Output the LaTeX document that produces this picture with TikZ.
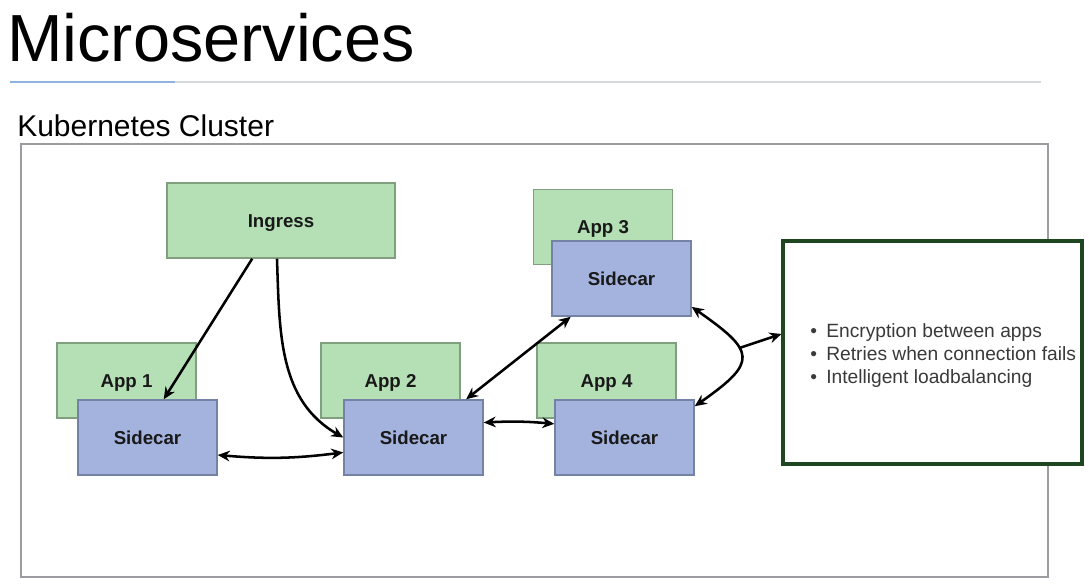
\documentclass[tikz,border=0pt]{standalone}
\usepackage{fontspec}
\setmainfont{Liberation Sans}
\usetikzlibrary{arrows.meta}
\usepackage{xcolor}
\definecolor{appfill}{HTML}{B5DFB5}
\definecolor{appdraw}{HTML}{7F9F7F}
\definecolor{carfill}{HTML}{A3B3DE}
\definecolor{cardraw}{HTML}{7482A6}
\definecolor{framegray}{HTML}{9B9BA0}
\definecolor{infogreen}{HTML}{1E4620}
\definecolor{rulegray}{HTML}{D6D9DD}
\definecolor{ruleblue}{HTML}{8FB4DC}
\definecolor{bodytext}{HTML}{3A3A3A}

\begin{document}
\begin{tikzpicture}[x=0.75pt,y=-0.75pt]
    \useasboundingbox (0,0) rectangle (1089,585);

    % heading and cluster frame
    \node[anchor=base west,inner sep=0,font=\fontsize{50}{60}\selectfont] (title) at (7,62) {Microservices};
    \draw[rulegray,line width=1.5pt] (10,82) -- (1041,82);
    \draw[ruleblue,line width=1.5pt] (10,82) -- (175,82);
    \node[anchor=base west,inner sep=0,font=\fontsize{22.5}{27}\selectfont] (clusterlabel) at (17,137) {Kubernetes Cluster};
    \draw[framegray,line width=1.5pt] (21,144) rectangle (1048,577);

    \begin{scope}[every node/.style={rectangle,draw=appdraw,fill=appfill,line width=1.1pt,inner sep=0,
        minimum width=104.25pt,minimum height=56.25pt,text height=10pt,text depth=0pt,
        text=black!90,font=\bfseries\fontsize{14}{16}\selectfont}]
      \node[minimum width=171pt] (ingress) at (281,220.5) {Ingress};
      \node (app1) at (126.5,380.5) {App 1};
      \node (app2) at (390.5,380.5) {App 2};
      \node (app3) at (603,227) {App 3};
      \node (app4) at (606.5,380.5) {App 4};
    \end{scope}

    \begin{scope}[every node/.style={rectangle,draw=cardraw,fill=carfill,line width=1.1pt,inner sep=0,
        minimum width=104.25pt,minimum height=56.25pt,text height=10pt,text depth=0pt,
        text=black!90,font=\bfseries\fontsize{14}{16}\selectfont}]
      \node (sc1) at (147.5,437.5) {Sidecar};
      \node (sc2) at (413.5,437.5) {Sidecar};
      \node (sc3) at (621.5,278.5) {Sidecar};
      \node (sc4) at (624.5,437.5) {Sidecar};
    \end{scope}

    \node[draw=infogreen,line width=2.3pt,fill=white,minimum width=224.25pt,minimum height=167.25pt] (info) at (932.5,352.5) {};
    \begin{scope}[every node/.style={anchor=base west,inner sep=0,text=bodytext,font=\fontsize{14.4}{17}\selectfont}]
      \node (item1) at (810,337) {\textbullet\hspace{7pt}Encryption between apps};
      \node (item2) at (810,360) {\textbullet\hspace{7pt}Retries when connection fails};
      \node (item3) at (810,383) {\textbullet\hspace{7pt}Intelligent loadbalancing};
    \end{scope}

    \begin{scope}[>={Stealth[length=9pt,width=8pt]},
        every edge/.style={draw=black,line width=1.9pt}]
      \path [->] (ingress.233) edge (sc1.67);
      \path [->] (ingress.264) edge[out=-88,in=150] (sc2.180);
      \path [<->] (sc1.-14) edge[bend right=6] (sc2.192);
      \path [<->] (sc2.36) edge (sc3.217);
      \path [<->] (sc2.12) edge[bend left=4] (sc4.169);
      \path [<->] (sc3.-22) edge[out=-35,in=35,looseness=2] node[coordinate,pos=0.4] (hub) {} (sc4.24);
      \path [->] (hub) edge (info.173);
    \end{scope}
\end{tikzpicture}
\end{document}
